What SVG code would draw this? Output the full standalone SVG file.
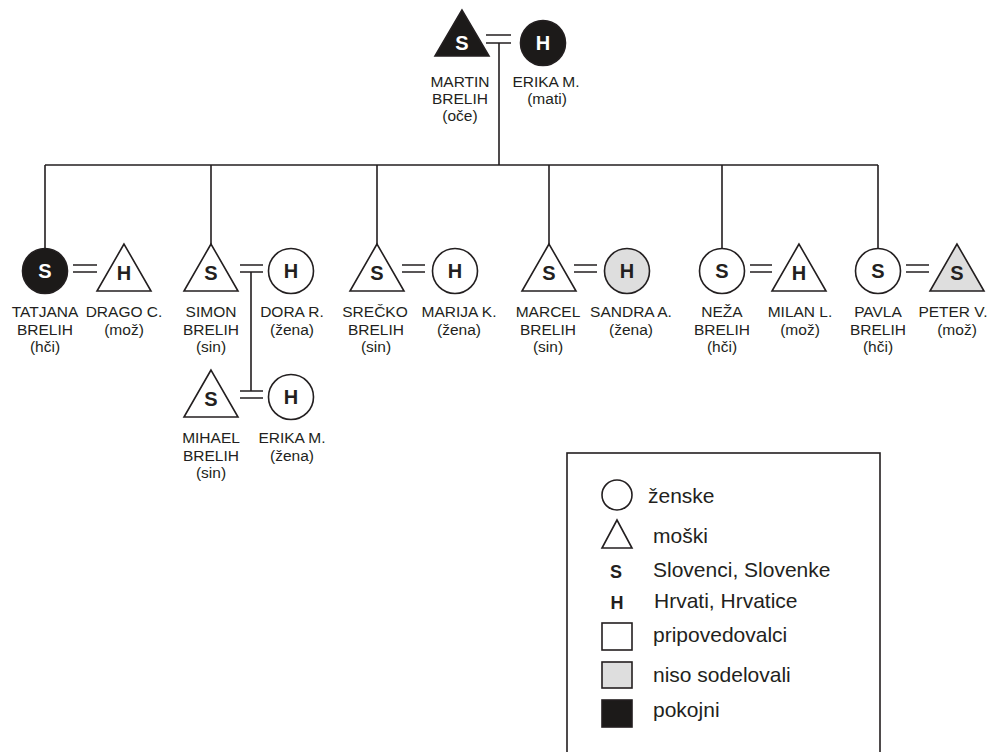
<svg xmlns="http://www.w3.org/2000/svg" width="991" height="752" viewBox="0 0 991 752">
<style>
.nd{stroke:#231f20;stroke-width:1.6;fill:#fff}
.gr{fill:#dedede}
.bk{fill:#1c1a19}
.ln{stroke:#231f20;stroke-width:1.6;fill:none}
.lt{font-family:"Liberation Sans",Arial,sans-serif;font-weight:bold;font-size:20px;text-anchor:middle;fill:#231f20}
.wt{fill:#fff}
.lb{font-family:"Liberation Sans",Arial,sans-serif;font-size:15.5px;text-anchor:middle;fill:#231f20}
.lg{font-family:"Liberation Sans",Arial,sans-serif;font-size:21px;fill:#231f20}
.lgb{font-family:"Liberation Sans",Arial,sans-serif;font-size:18px;font-weight:bold;text-anchor:middle;fill:#231f20}
</style>
<rect width="991" height="752" fill="#fff"/>
<g id="connectors">
<path class="ln" d="M486 35H511M486 43H511M499 43V165"/>
<path class="ln" d="M45 165H878M45 165V248.5M211 165V244M377 165V244M549 165V244M722 165V248.5M878 165V248.5"/>
<path class="ln" d="M73 265H97M73 272H97"/>
<path class="ln" d="M240 265H263M240 272H263M251 272V391"/>
<path class="ln" d="M240 391H263M240 398H263"/>
<path class="ln" d="M402 265H425M402 272H425"/>
<path class="ln" d="M574 265H597M574 272H597"/>
<path class="ln" d="M750 265H772M750 272H772"/>
<path class="ln" d="M906 265H929M906 272H929"/>
</g>
<g id="martin">
<polygon class="nd bk" points="462,10 435,56 489,56"/>
<text class="lt wt" x="462" y="50">S</text>
<text class="lb" x="460" y="87">MARTIN</text>
<text class="lb" x="460" y="104">BRELIH</text>
<text class="lb" x="460" y="121">(oče)</text>
</g>
<g id="erika-mati">
<circle class="nd bk" cx="543" cy="43" r="22.5"/>
<text class="lt wt" x="543" y="50">H</text>
<text class="lb" x="546" y="87">ERIKA M.</text>
<text class="lb" x="547" y="104">(mati)</text>
</g>
<g id="tatjana">
<circle class="nd bk" cx="45" cy="271" r="22.5"/>
<text class="lt wt" x="45" y="278">S</text>
<text class="lb" x="45" y="317">TATJANA</text>
<text class="lb" x="45" y="335">BRELIH</text>
<text class="lb" x="45" y="352">(hči)</text>
</g>
<g id="drago">
<polygon class="nd" points="124,244 97,291 151,291"/>
<text class="lt" x="124" y="280">H</text>
<text class="lb" x="124" y="317">DRAGO C.</text>
<text class="lb" x="124" y="335">(mož)</text>
</g>
<g id="simon">
<polygon class="nd" points="211,244 184,291 238,291"/>
<text class="lt" x="211" y="280">S</text>
<text class="lb" x="211" y="317">SIMON</text>
<text class="lb" x="211" y="335">BRELIH</text>
<text class="lb" x="211" y="352">(sin)</text>
</g>
<g id="dora">
<circle class="nd" cx="291" cy="271" r="22.5"/>
<text class="lt" x="291" y="278">H</text>
<text class="lb" x="292" y="317">DORA R.</text>
<text class="lb" x="292" y="335">(žena)</text>
</g>
<g id="mihael">
<polygon class="nd" points="211,370 184,417 238,417"/>
<text class="lt" x="211" y="406">S</text>
<text class="lb" x="211" y="443">MIHAEL</text>
<text class="lb" x="211" y="461">BRELIH</text>
<text class="lb" x="211" y="478">(sin)</text>
</g>
<g id="erika-zena">
<circle class="nd" cx="291" cy="397" r="22.5"/>
<text class="lt" x="291" y="404">H</text>
<text class="lb" x="292" y="443">ERIKA M.</text>
<text class="lb" x="292" y="461">(žena)</text>
</g>
<g id="srecko">
<polygon class="nd" points="377,244 350,291 404,291"/>
<text class="lt" x="377" y="280">S</text>
<text class="lb" x="375" y="317">SREČKO</text>
<text class="lb" x="376" y="335">BRELIH</text>
<text class="lb" x="376" y="352">(sin)</text>
</g>
<g id="marija">
<circle class="nd" cx="455" cy="271" r="22.5"/>
<text class="lt" x="455" y="278">H</text>
<text class="lb" x="459" y="317">MARIJA K.</text>
<text class="lb" x="459" y="335">(žena)</text>
</g>
<g id="marcel">
<polygon class="nd" points="549,244 522,291 576,291"/>
<text class="lt" x="549" y="280">S</text>
<text class="lb" x="548" y="317">MARCEL</text>
<text class="lb" x="548" y="335">BRELIH</text>
<text class="lb" x="548" y="352">(sin)</text>
</g>
<g id="sandra">
<circle class="nd gr" cx="627" cy="271" r="22.5"/>
<text class="lt" x="627" y="278">H</text>
<text class="lb" x="631" y="317">SANDRA A.</text>
<text class="lb" x="631" y="335">(žena)</text>
</g>
<g id="neza">
<circle class="nd" cx="722" cy="271" r="22.5"/>
<text class="lt" x="722" y="278">S</text>
<text class="lb" x="722" y="317">NEŽA</text>
<text class="lb" x="722" y="335">BRELIH</text>
<text class="lb" x="722" y="352">(hči)</text>
</g>
<g id="milan">
<polygon class="nd" points="799,244 772,291 826,291"/>
<text class="lt" x="799" y="280">H</text>
<text class="lb" x="800" y="317">MILAN L.</text>
<text class="lb" x="800" y="335">(mož)</text>
</g>
<g id="pavla">
<circle class="nd" cx="878" cy="271" r="22.5"/>
<text class="lt" x="878" y="278">S</text>
<text class="lb" x="878" y="317">PAVLA</text>
<text class="lb" x="878" y="335">BRELIH</text>
<text class="lb" x="878" y="352">(hči)</text>
</g>
<g id="peter">
<polygon class="nd gr" points="957,244 930,291 984,291"/>
<text class="lt" x="957" y="280">S</text>
<text class="lb" x="953" y="317">PETER V.</text>
<text class="lb" x="957" y="335">(mož)</text>
</g>
<g id="legend">
<rect x="567" y="453" width="313" height="320" fill="#fff" stroke="#231f20" stroke-width="1.6"/>
<circle class="nd" cx="617" cy="495" r="15"/>
<text class="lg" x="648" y="503">ženske</text>
<polygon class="nd" points="617,520 602,548 632,548"/>
<text class="lg" x="653" y="543">moški</text>
<text class="lgb" x="616" y="578">S</text>
<text class="lg" x="653" y="577">Slovenci, Slovenke</text>
<text class="lgb" x="617" y="609">H</text>
<text class="lg" x="654" y="608">Hrvati, Hrvatice</text>
<rect class="nd" x="602" y="623" width="30" height="27"/>
<text class="lg" x="653" y="642">pripovedovalci</text>
<rect class="nd gr" x="602" y="662" width="30" height="26"/>
<text class="lg" x="653" y="682">niso sodelovali</text>
<rect class="nd bk" x="602" y="700" width="30" height="27"/>
<text class="lg" x="653" y="717">pokojni</text>
</g>
</svg>
